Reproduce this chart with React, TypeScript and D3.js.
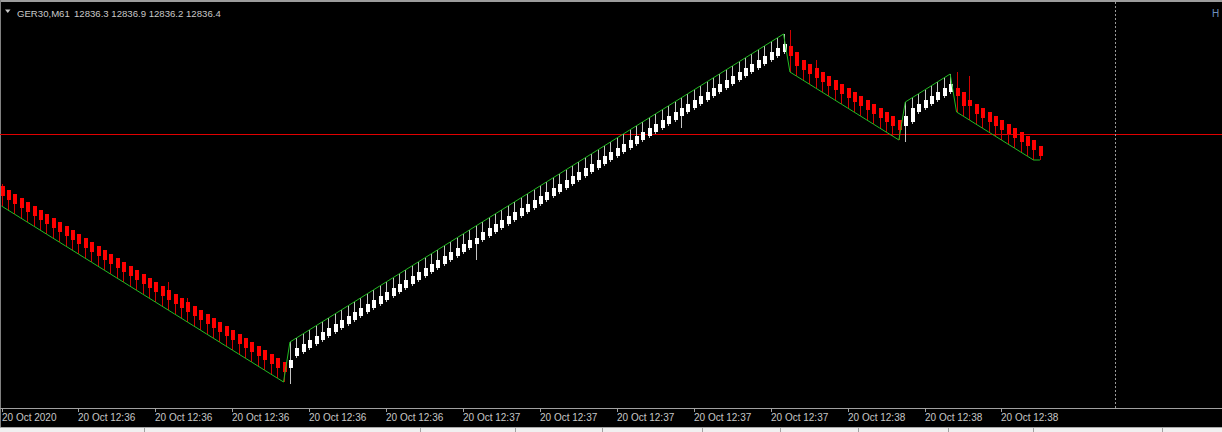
import React from 'react';
import * as d3 from 'd3';

const W = 1222;
const H = 432;

// renko-style M61 offline chart, one entry per bar
const opens = [
  12834.9, 12834.7, 12834.5, 12834.3, 12834.1, 12833.9, 12833.7, 12833.5, 12833.3, 12833.1,
  12832.9, 12832.7, 12832.5, 12832.3, 12832.1, 12831.9, 12831.7, 12831.5, 12831.3, 12831.1,
  12830.9, 12830.7, 12830.5, 12830.3, 12830.1, 12829.9, 12829.7, 12829.5, 12829.3, 12829.1,
  12828.9, 12828.7, 12828.5, 12828.3, 12828.1, 12827.9, 12827.7, 12827.5, 12827.3, 12827.1,
  12826.9, 12826.7, 12826.5, 12826.3, 12826.1, 12825.8, 12826.4, 12826.6, 12826.8, 12827.0,
  12827.2, 12827.4, 12827.6, 12827.8, 12828.0, 12828.2, 12828.4, 12828.6, 12828.8, 12829.0,
  12829.2, 12829.4, 12829.6, 12829.8, 12830.0, 12830.2, 12830.4, 12830.6, 12830.8, 12831.0,
  12831.2, 12831.4, 12831.6, 12831.8, 12832.0, 12832.2, 12832.4, 12832.6, 12832.8, 12833.0,
  12833.2, 12833.4, 12833.6, 12833.8, 12834.0, 12834.2, 12834.4, 12834.6, 12834.8, 12835.0,
  12835.2, 12835.4, 12835.6, 12835.8, 12836.0, 12836.2, 12836.4, 12836.6, 12836.8, 12837.0,
  12837.2, 12837.4, 12837.6, 12837.8, 12838.0, 12838.2, 12838.4, 12838.6, 12838.8, 12839.0,
  12839.2, 12839.4, 12839.6, 12839.8, 12840.0, 12840.2, 12840.4, 12840.6, 12840.8, 12841.0,
  12841.2, 12841.4, 12841.6, 12841.9, 12841.6, 12841.2, 12841.0, 12840.8, 12840.6, 12840.4,
  12840.2, 12840.0, 12839.8, 12839.6, 12839.4, 12839.2, 12839.0, 12838.8, 12838.6, 12838.4,
  12838.2, 12837.9, 12838.1, 12838.6, 12838.8, 12839.0, 12839.2, 12839.4, 12839.6, 12839.8,
  12839.6, 12839.2, 12839.0, 12838.8, 12838.6, 12838.4, 12838.2, 12838.0, 12837.8, 12837.6,
  12837.4, 12837.2, 12836.9,
];

const highs = [
  12835.0, 12834.7, 12834.5, 12834.3, 12834.1, 12833.9, 12833.7, 12833.5, 12833.3, 12833.1,
  12832.9, 12832.7, 12832.5, 12832.3, 12832.1, 12831.9, 12831.7, 12831.5, 12831.3, 12831.1,
  12830.9, 12830.7, 12830.5, 12830.3, 12830.1, 12829.9, 12830.1, 12829.5, 12829.3, 12829.3,
  12828.9, 12828.7, 12828.5, 12828.3, 12828.1, 12827.9, 12827.7, 12827.5, 12827.3, 12827.1,
  12826.9, 12826.7, 12826.5, 12826.3, 12826.1, 12827.1, 12827.3, 12827.5, 12827.7, 12827.9,
  12828.1, 12828.3, 12828.5, 12828.7, 12828.9, 12829.1, 12829.3, 12829.5, 12829.7, 12829.9,
  12830.1, 12830.3, 12830.5, 12830.7, 12830.9, 12831.1, 12831.3, 12831.5, 12831.7, 12831.9,
  12832.1, 12832.3, 12832.5, 12832.7, 12832.9, 12833.1, 12833.3, 12833.5, 12833.7, 12833.9,
  12834.1, 12834.3, 12834.5, 12834.7, 12834.9, 12835.1, 12835.3, 12835.5, 12835.7, 12835.9,
  12836.1, 12836.3, 12836.5, 12836.7, 12836.9, 12837.1, 12837.3, 12837.5, 12837.7, 12837.9,
  12838.1, 12838.3, 12838.5, 12838.7, 12838.9, 12839.1, 12839.3, 12839.5, 12839.7, 12839.9,
  12840.1, 12840.3, 12840.5, 12840.7, 12840.9, 12841.1, 12841.3, 12841.5, 12841.7, 12841.9,
  12842.1, 12842.3, 12842.5, 12842.7, 12841.6, 12841.2, 12841.0, 12841.2, 12840.6, 12840.4,
  12840.2, 12840.0, 12839.8, 12839.6, 12839.4, 12839.2, 12839.0, 12838.8, 12838.6, 12838.4,
  12838.2, 12839.1, 12839.3, 12839.5, 12839.7, 12839.9, 12840.1, 12840.3, 12840.5, 12840.6,
  12839.6, 12840.4, 12839.0, 12838.8, 12838.6, 12838.4, 12838.2, 12838.0, 12837.8, 12837.6,
  12837.4, 12837.2, 12836.9,
];

const lows = [
  12833.9, 12833.7, 12833.5, 12833.3, 12833.1, 12832.9, 12832.7, 12832.5, 12832.3, 12832.1,
  12831.9, 12831.7, 12831.5, 12831.3, 12831.1, 12830.9, 12830.7, 12830.5, 12830.3, 12830.1,
  12829.9, 12829.7, 12829.5, 12829.3, 12829.1, 12828.9, 12828.7, 12828.5, 12828.3, 12828.1,
  12827.9, 12827.7, 12827.5, 12827.3, 12827.1, 12826.9, 12826.7, 12826.5, 12826.3, 12826.1,
  12825.9, 12825.7, 12825.5, 12825.3, 12825.1, 12825.0, 12826.3, 12826.5, 12826.7, 12826.9,
  12827.1, 12827.3, 12827.5, 12827.7, 12827.9, 12828.1, 12828.3, 12828.5, 12828.7, 12828.9,
  12829.1, 12829.3, 12829.5, 12829.7, 12829.9, 12830.1, 12830.3, 12830.5, 12830.7, 12830.9,
  12831.1, 12831.3, 12831.5, 12831.7, 12831.2, 12832.1, 12832.3, 12832.5, 12832.7, 12832.9,
  12833.1, 12833.3, 12833.5, 12833.7, 12833.9, 12834.1, 12834.3, 12834.5, 12834.7, 12834.9,
  12835.1, 12835.3, 12835.5, 12835.7, 12835.9, 12836.1, 12836.3, 12836.5, 12836.7, 12836.9,
  12837.1, 12837.3, 12837.5, 12837.7, 12837.9, 12838.1, 12837.8, 12838.5, 12838.7, 12838.9,
  12839.1, 12839.3, 12839.5, 12839.7, 12839.9, 12840.1, 12840.3, 12840.5, 12840.7, 12840.9,
  12841.1, 12841.3, 12841.5, 12840.6, 12840.4, 12840.2, 12840.0, 12839.8, 12839.6, 12839.4,
  12839.2, 12839.0, 12838.8, 12838.6, 12838.4, 12838.2, 12838.0, 12837.8, 12837.6, 12837.4,
  12837.2, 12837.1, 12838.0, 12838.5, 12838.7, 12838.9, 12839.1, 12839.3, 12839.5, 12838.6,
  12838.4, 12838.2, 12838.0, 12837.8, 12837.6, 12837.4, 12837.2, 12837.0, 12836.8, 12836.6,
  12836.4, 12836.2, 12836.2,
];

const closes = [
  12834.4, 12834.2, 12834.0, 12833.8, 12833.6, 12833.4, 12833.2, 12833.0, 12832.8, 12832.6,
  12832.4, 12832.2, 12832.0, 12831.8, 12831.6, 12831.4, 12831.2, 12831.0, 12830.8, 12830.6,
  12830.4, 12830.2, 12830.0, 12829.8, 12829.6, 12829.4, 12829.2, 12829.0, 12828.8, 12828.6,
  12828.4, 12828.2, 12828.0, 12827.8, 12827.6, 12827.4, 12827.2, 12827.0, 12826.8, 12826.6,
  12826.4, 12826.2, 12826.0, 12825.8, 12825.6, 12826.2, 12826.8, 12827.0, 12827.2, 12827.4,
  12827.6, 12827.8, 12828.0, 12828.2, 12828.4, 12828.6, 12828.8, 12829.0, 12829.2, 12829.4,
  12829.6, 12829.8, 12830.0, 12830.2, 12830.4, 12830.6, 12830.8, 12831.0, 12831.2, 12831.4,
  12831.6, 12831.8, 12832.0, 12832.2, 12832.3, 12832.6, 12832.8, 12833.0, 12833.2, 12833.4,
  12833.6, 12833.8, 12834.0, 12834.2, 12834.4, 12834.6, 12834.8, 12835.0, 12835.2, 12835.4,
  12835.6, 12835.8, 12836.0, 12836.2, 12836.4, 12836.6, 12836.8, 12837.0, 12837.2, 12837.4,
  12837.6, 12837.8, 12838.0, 12838.2, 12838.4, 12838.6, 12838.8, 12839.0, 12839.2, 12839.4,
  12839.6, 12839.8, 12840.0, 12840.2, 12840.4, 12840.6, 12840.8, 12841.0, 12841.2, 12841.4,
  12841.6, 12841.8, 12842.0, 12841.4, 12840.9, 12840.7, 12840.5, 12840.3, 12840.1, 12839.9,
  12839.7, 12839.5, 12839.3, 12839.1, 12838.9, 12838.7, 12838.5, 12838.3, 12838.1, 12837.9,
  12837.7, 12838.4, 12838.8, 12839.0, 12839.2, 12839.4, 12839.6, 12839.8, 12840.0, 12839.4,
  12838.9, 12838.9, 12838.5, 12838.3, 12838.1, 12837.9, 12837.7, 12837.5, 12837.3, 12837.1,
  12836.9, 12836.7, 12836.4,
];

// time axis: a label every 12 bars
const tickBars = [0, 12, 24, 36, 48, 60, 72, 84, 96, 108, 120, 132, 144, 156];
const tickLabels = [
  '20 Oct 2020', '20 Oct 12:36', '20 Oct 12:36', '20 Oct 12:36', '20 Oct 12:36',
  '20 Oct 12:36', '20 Oct 12:37', '20 Oct 12:37', '20 Oct 12:37', '20 Oct 12:37',
  '20 Oct 12:37', '20 Oct 12:38', '20 Oct 12:38', '20 Oct 12:38',
];

const symbol = 'GER30,M61';
const lastQuote = ['12836.3', '12836.9', '12836.2', '12836.4'];
const levelPrice = 12837.5;
const shiftBar = 173.7;

const bullColor = '#ffffff';
const bullWick = '#c4c4c4';
const bearColor = '#ff0000';
const bearWick = '#d00000';
const textColor = '#c8c8c8';
const font = '"Liberation Sans", Arial, sans-serif';

export default function App() {
  const x = d3.scaleLinear().domain([0, 162]).range([1.5, 1039.9]);
  const y = d3.scaleLinear().domain([12823.9, 12844.15]).range([406, 1]);

  const bars = opens.map((o, i) => ({ i, o, h: highs[i], l: lows[i], c: closes[i] }));

  // green line: highs while rising, lows while falling
  const envelope = d3
    .line<any>()
    .x(d => x(d.i))
    .y(d => y(d.c > d.o ? d.h : d.l));

  const axisY = 408.5;
  const shiftX = Math.round(x(shiftBar)) + 0.5;

  return (
    <svg
      width={W}
      height={H}
      style={{ position: 'absolute', left: 0, top: 0, display: 'block', background: '#000' }}>
      <rect x={0} y={0} width={W} height={H} fill="#000" />

      {/* window chrome */}
      <rect x={0} y={0} width={W} height={2} fill="#9c9c9c" />
      <line x1={0.5} y1={0} x2={0.5} y2={427} stroke="#808080" />

      {/* level line */}
      <line
        x1={0}
        x2={W}
        y1={Math.round(y(levelPrice)) + 0.5}
        y2={Math.round(y(levelPrice)) + 0.5}
        stroke="#e00000"
        strokeWidth={1}
        shapeRendering="crispEdges"
      />

      {/* chart shift separator */}
      <line
        x1={shiftX}
        x2={shiftX}
        y1={2}
        y2={axisY}
        stroke="#9a9a9a"
        strokeDasharray="2,2"
        shapeRendering="crispEdges"
      />

      {/* candles */}
      <g shapeRendering="crispEdges">
        {bars.map(d => {
          const cx = Math.round(x(d.i));
          const bull = d.c > d.o;
          const top = Math.round(y(Math.max(d.o, d.c)));
          const bot = Math.round(y(Math.min(d.o, d.c)));
          return (
            <g key={`bar${d.i}`}>
              <line
                x1={cx + 0.5}
                x2={cx + 0.5}
                y1={Math.round(y(d.h))}
                y2={Math.round(y(d.l))}
                stroke={bull ? bullWick : bearWick}
              />
              <rect
                x={cx - 1}
                y={top}
                width={4}
                height={Math.max(1, bot - top)}
                fill={bull ? bullColor : bearColor}
              />
            </g>
          );
        })}
      </g>

      {/* renko envelope */}
      <path d={envelope(bars) || ''} fill="none" stroke="#22bb22" strokeWidth={1} />

      {/* time axis */}
      <line x1={0} x2={W} y1={axisY} y2={axisY} stroke="#a0a0a0" shapeRendering="crispEdges" />
      {tickBars.map((b, k) => {
        const tx = Math.round(x(b)) + 0.5;
        return (
          <g key={`tick${k}`}>
            <line x1={tx} x2={tx} y1={axisY} y2={axisY + 3} stroke="#a0a0a0" shapeRendering="crispEdges" />
            <text x={tx - 0.5} y={420.5} fill={textColor} fontFamily={font} fontSize={10}>
              {tickLabels[k]}
            </text>
          </g>
        );
      })}

      {/* header */}
      <path d="M5,9.5 L10.5,9.5 L7.75,13 Z" fill={textColor} />
      <text x={17} y={16.5} fill={textColor} fontFamily={font} fontSize={9.6}>
        {symbol}
      </text>
      <text x={74} y={16.5} fill={textColor} fontFamily={font} fontSize={9.6}>
        {lastQuote.join(' ')}
      </text>
      <text x={1212} y={16.5} fill="#6f8fbf" fontFamily={font} fontSize={10}>
        H
      </text>

      {/* tab strip */}
      <rect x={0} y={427} width={W} height={5} fill="#f0f0f0" />
      <line x1={0} x2={W} y1={427.5} y2={427.5} stroke="#a8a8a8" />
      {[144, 420, 515, 602, 702, 780, 858, 948, 1033, 1162].map((sx, k) => (
        <line key={`sep${k}`} x1={sx + 0.5} x2={sx + 0.5} y1={428} y2={H} stroke="#a0a0a0" />
      ))}
    </svg>
  );
}
